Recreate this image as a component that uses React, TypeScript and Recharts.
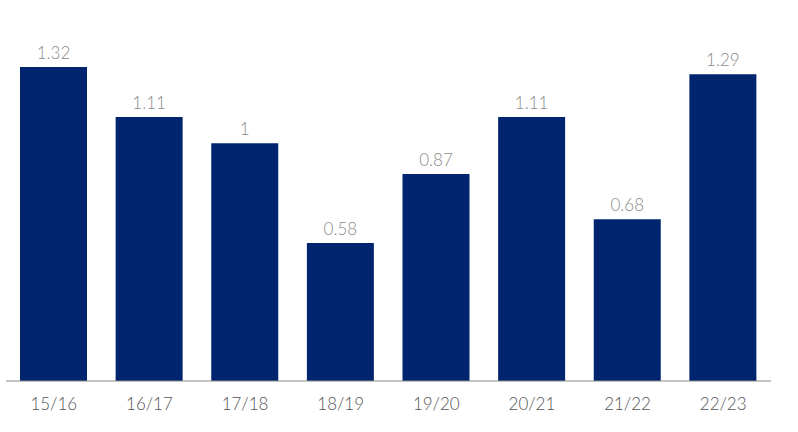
import { BarChart, Bar, XAxis, YAxis, LabelList } from 'recharts';

const seasons = ['15/16', '16/17', '17/18', '18/19', '19/20', '20/21', '21/22', '22/23'];
const values = [1.32, 1.11, 1, 0.58, 0.87, 1.11, 0.68, 1.29];

const chartData = seasons.map((season, i) => ({ season, value: values[i] }));

export default function App() {
  return (
    <div style={{ position: 'absolute', left: 0, top: 0, fontFamily: 'Lato, sans-serif', fontWeight: 300 }}>
      <BarChart width={798} height={432} data={chartData} margin={{ top: 48, right: 27, bottom: 0, left: 6 }} barCategoryGap={0}>
        <XAxis
          dataKey="season"
          height={51}
          tickLine={false}
          tickSize={0}
          tickMargin={17}
          axisLine={{ stroke: '#888', strokeWidth: 1 }}
          tick={{ fill: '#555', fontSize: 17 }}
        />
        <YAxis hide domain={[0, 1.4]} />
        <Bar dataKey="value" fill="#00256e" barSize={67} isAnimationActive={false}>
          <LabelList dataKey="value" position="top" offset={8} fill="#8a8a8a" fontSize={17} />
        </Bar>
      </BarChart>
    </div>
  );
}
